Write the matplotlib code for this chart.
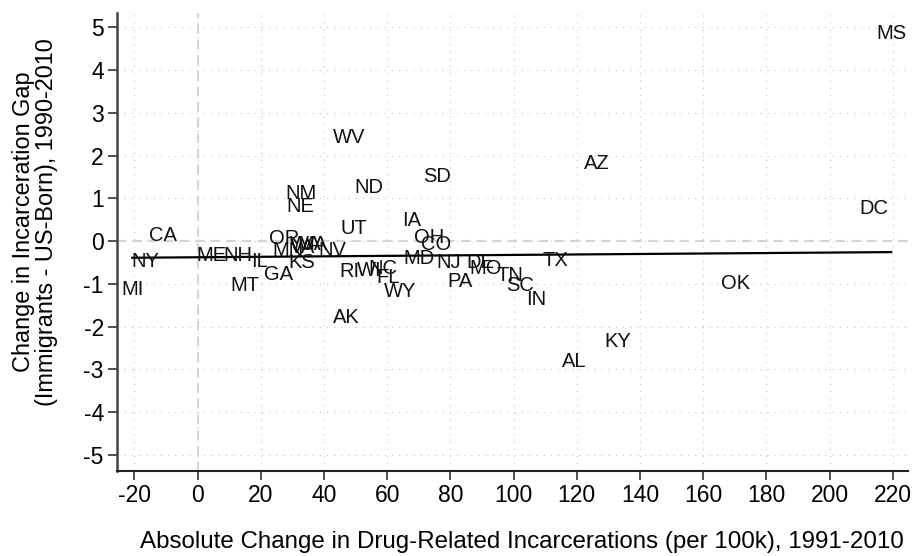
import numpy as np
import matplotlib
matplotlib.use("Agg")
import matplotlib.pyplot as plt

states = ["MS","AZ","DC","WV","ND","SD","NM","NE","UT","IA","CA","NY","MI","ME","NH","IL",
          "MT","GA","OR","KS","MN","VA","WA","MA","NV","RI","WI","NC","FL","WY","AK","MD",
          "OH","CO","NJ","PA","DE","MO","TN","SC","IN","TX","OK","KY","AL"]
drug_change = [219.5,126.4,214.1,47.9,54.3,75.8,32.8,32.6,49.5,67.6,-10.9,-16.6,-20.7,4.3,12.8,19.5,
               14.9,25.6,27.5,32.9,28.5,33.1,34.3,36.2,42.6,48.1,54.3,58.7,60.3,64.2,47.0,70.1,
               73.2,75.6,79.6,83.1,89.4,91.2,98.9,102.0,107.1,113.1,170.1,133.1,119.1]
gap_change = [4.86,1.82,0.77,2.43,1.26,1.52,1.12,0.82,0.30,0.48,0.12,-0.47,-1.13,-0.33,-0.33,-0.47,
              -1.03,-0.77,0.05,-0.49,-0.21,-0.14,-0.09,-0.09,-0.21,-0.72,-0.69,-0.65,-0.84,-1.19,-1.78,-0.40,
              0.08,-0.07,-0.51,-0.94,-0.49,-0.63,-0.81,-1.04,-1.37,-0.46,-0.98,-2.35,-2.82]
# fitted line
fit_intercept = -0.378
fit_slope = 0.00055
xticks = list(range(-20, 221, 20))
yticks = list(range(-5, 6))

plt.rcParams['font.family'] = ['Liberation Sans', 'DejaVu Sans']

fig = plt.figure(figsize=(9.14, 5.56), dpi=100)
ax = fig.add_axes([0.1277, 0.1534, 0.8657, 0.8236])

x = np.array(drug_change)
y = np.array(gap_change)

ax.set_xlim(-25.6, 224.8)
ax.set_ylim(-5.37, 5.34)
ax.set_xticks(xticks)
ax.set_yticks(yticks)
ax.set_xticklabels([str(t) for t in xticks])
ax.set_yticklabels([str(t) for t in yticks])

ax.grid(True, linestyle=(0, (1, 5.5)), color='#c4c4c4', linewidth=0.8)
ax.set_axisbelow(True)
ax.axvline(0, color='#d4d4d4', linestyle=(0, (4.5, 3)), linewidth=1.5, zorder=1)
ax.axhline(0, color='#d4d4d4', linestyle=(0, (4.5, 3)), linewidth=1.5, zorder=1)

xs = np.array([x.min(), x.max()])
ax.plot(xs, fit_intercept + fit_slope * xs, color='black', linewidth=1.6, zorder=3)

for s, xi, yi in zip(states, x, y):
    ax.text(xi, yi, s, ha='center', va='center', fontsize=14.5, color='#111111', zorder=4)

for side in ['top', 'right']:
    ax.spines[side].set_visible(False)
ax.spines['left'].set_color('#444444')
ax.spines['left'].set_linewidth(1.8)
ax.spines['bottom'].set_color('#222222')
ax.spines['bottom'].set_linewidth(1.5)
ax.tick_params(axis='both', direction='out', length=6.3, width=1.2, color='#333333',
               labelsize=16.5, labelcolor='black', pad=3)

fig.text(522 / 914, 1 - 542 / 556,
         "Absolute Change in Drug-Related Incarcerations (per 100k), 1991-2010",
         fontsize=17.4, ha='center', va='center')
fig.text(35 / 914, 1 - 222 / 556,
         "Change in Incarceration Gap\n(Immigrants - US-Born), 1990-2010",
         fontsize=16.9, ha='center', va='center', rotation=90, linespacing=1.0,
         multialignment='center')

fig.savefig("out.png", dpi=100)
